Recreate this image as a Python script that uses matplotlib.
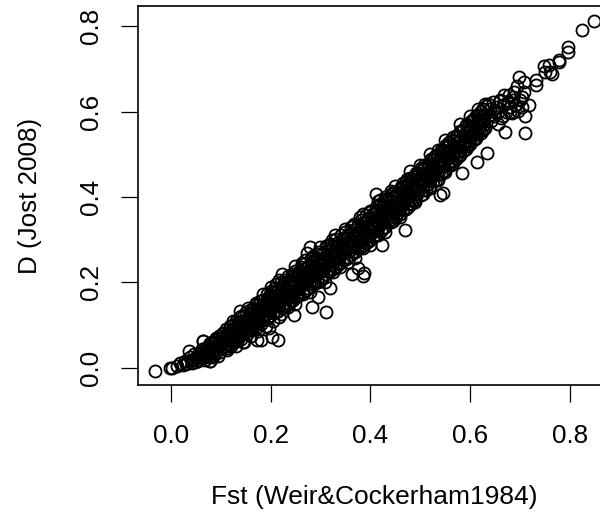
import matplotlib
matplotlib.use('Agg')
import matplotlib.pyplot as plt

plt.rcParams['font.family'] = ['Liberation Sans', 'DejaVu Sans']

# ---------------------------- values --------------------
# tail at the low end
fst_low = [-0.031, -0.001, 0.003, 0.012, 0.019, 0.024, 0.028, 0.033, 0.036, 0.04, 0.043, 0.047, 0.05, 0.054, 0.056,
           0.06, 0.062, 0.065, 0.068, 0.07, 0.072, 0.075, 0.079, 0.08, 0.083, 0.085, 0.088, 0.09, 0.092, 0.095, 0.097,
           0.03, 0.038, 0.044, 0.049, 0.052, 0.058, 0.063, 0.066, 0.071, 0.074, 0.077, 0.081, 0.084, 0.087, 0.089,
           0.091, 0.094, 0.096, 0.098, 0.078, 0.086, 0.093, 0.099]
d_low = [-0.008, 0.0, -0.001, 0.004, 0.01, 0.006, 0.016, 0.012, 0.04, 0.019, 0.012, 0.031, 0.024, 0.016, 0.034,
         0.027, 0.044, 0.063, 0.018, 0.04, 0.03, 0.052, 0.016, 0.036, 0.06, 0.03, 0.05, 0.069, 0.04, 0.059, 0.075,
         0.009, 0.024, 0.018, 0.014, 0.028, 0.022, 0.035, 0.026, 0.047, 0.024, 0.041, 0.046, 0.025, 0.057, 0.034,
         0.064, 0.028, 0.05, 0.037, 0.058, 0.042, 0.07, 0.066]

# band, upper edge
fst_a = [0.102, 0.111, 0.119, 0.131, 0.138, 0.151, 0.159, 0.171, 0.178, 0.192, 0.201, 0.208, 0.221, 0.229, 0.242,
         0.249, 0.261, 0.268, 0.282, 0.291, 0.298, 0.312, 0.319, 0.332, 0.341, 0.349, 0.362, 0.368, 0.381, 0.392,
         0.399, 0.412, 0.419, 0.431, 0.442, 0.448, 0.461, 0.472, 0.479, 0.491, 0.502, 0.508, 0.522, 0.529, 0.541,
         0.552, 0.558, 0.571, 0.579, 0.592, 0.601, 0.609, 0.622, 0.631]
d_a = [0.078, 0.09, 0.097, 0.109, 0.118, 0.13, 0.136, 0.149, 0.156, 0.172, 0.18, 0.186, 0.2, 0.205, 0.22,
       0.226, 0.236, 0.243, 0.256, 0.266, 0.27, 0.285, 0.29, 0.302, 0.31, 0.318, 0.33, 0.336, 0.347, 0.358,
       0.364, 0.376, 0.384, 0.395, 0.406, 0.412, 0.424, 0.436, 0.445, 0.456, 0.468, 0.474, 0.489, 0.496, 0.51,
       0.522, 0.53, 0.544, 0.554, 0.568, 0.578, 0.588, 0.602, 0.614]

# band, above the middle
fst_b = [0.105, 0.115, 0.124, 0.135, 0.145, 0.154, 0.165, 0.174, 0.186, 0.195, 0.204, 0.215, 0.226, 0.234, 0.246,
         0.255, 0.264, 0.276, 0.285, 0.294, 0.306, 0.315, 0.325, 0.336, 0.345, 0.355, 0.364, 0.376, 0.385, 0.396,
         0.405, 0.415, 0.424, 0.436, 0.445, 0.455, 0.466, 0.475, 0.484, 0.496, 0.505, 0.515, 0.526, 0.535, 0.546,
         0.555, 0.565, 0.574, 0.586, 0.595, 0.606, 0.615, 0.626, 0.636]
d_b = [0.072, 0.081, 0.088, 0.098, 0.11, 0.118, 0.129, 0.137, 0.152, 0.16, 0.169, 0.179, 0.19, 0.197, 0.209,
       0.217, 0.225, 0.237, 0.245, 0.253, 0.266, 0.274, 0.283, 0.293, 0.301, 0.31, 0.319, 0.331, 0.339, 0.35,
       0.36, 0.37, 0.379, 0.392, 0.401, 0.412, 0.424, 0.433, 0.443, 0.457, 0.466, 0.477, 0.489, 0.499, 0.511,
       0.522, 0.533, 0.544, 0.558, 0.569, 0.581, 0.592, 0.606, 0.618]

# band, middle
fst_c = [0.101, 0.112, 0.122, 0.129, 0.142, 0.148, 0.162, 0.169, 0.182, 0.189, 0.202, 0.212, 0.219, 0.232, 0.238,
         0.252, 0.259, 0.272, 0.279, 0.288, 0.302, 0.309, 0.322, 0.328, 0.342, 0.352, 0.359, 0.372, 0.378, 0.388,
         0.402, 0.409, 0.422, 0.428, 0.439, 0.452, 0.458, 0.469, 0.482, 0.488, 0.499, 0.512, 0.518, 0.532, 0.538,
         0.549, 0.562, 0.568, 0.582, 0.589, 0.598, 0.612, 0.618, 0.628]
d_c = [0.06, 0.07, 0.079, 0.085, 0.098, 0.104, 0.118, 0.124, 0.139, 0.144, 0.158, 0.166, 0.172, 0.184, 0.189,
       0.202, 0.208, 0.22, 0.226, 0.234, 0.247, 0.253, 0.265, 0.27, 0.283, 0.292, 0.298, 0.31, 0.316, 0.325,
       0.337, 0.344, 0.357, 0.363, 0.374, 0.387, 0.393, 0.405, 0.42, 0.426, 0.438, 0.453, 0.459, 0.475, 0.482,
       0.494, 0.51, 0.517, 0.533, 0.542, 0.552, 0.569, 0.577, 0.59]

# band, below the middle
fst_d = [0.108, 0.118, 0.126, 0.137, 0.146, 0.157, 0.166, 0.177, 0.185, 0.197, 0.206, 0.217, 0.225, 0.236, 0.245,
         0.257, 0.266, 0.275, 0.286, 0.296, 0.305, 0.317, 0.326, 0.335, 0.346, 0.357, 0.366, 0.375, 0.386, 0.397,
         0.406, 0.417, 0.426, 0.435, 0.446, 0.457, 0.465, 0.477, 0.486, 0.495, 0.506, 0.517, 0.525, 0.537, 0.545,
         0.557, 0.566, 0.576, 0.585, 0.597, 0.605, 0.617, 0.625, 0.638]
d_d = [0.052, 0.062, 0.069, 0.077, 0.086, 0.098, 0.106, 0.118, 0.124, 0.138, 0.146, 0.155, 0.162, 0.172, 0.18,
       0.191, 0.2, 0.207, 0.217, 0.227, 0.234, 0.246, 0.254, 0.262, 0.272, 0.282, 0.291, 0.298, 0.309, 0.32,
       0.328, 0.339, 0.349, 0.358, 0.369, 0.381, 0.389, 0.403, 0.413, 0.423, 0.435, 0.448, 0.457, 0.471, 0.48,
       0.494, 0.505, 0.517, 0.527, 0.542, 0.551, 0.566, 0.576, 0.592]

# band, lower edge
fst_e = [0.113, 0.121, 0.133, 0.141, 0.152, 0.163, 0.172, 0.181, 0.193, 0.199, 0.211, 0.222, 0.228, 0.241, 0.251,
         0.258, 0.271, 0.281, 0.289, 0.301, 0.311, 0.318, 0.331, 0.338, 0.351, 0.361, 0.369, 0.382, 0.391, 0.398,
         0.411, 0.421, 0.429, 0.441, 0.451, 0.459, 0.471, 0.481, 0.489, 0.501, 0.511, 0.519, 0.531, 0.542, 0.548,
         0.561, 0.572, 0.578, 0.591, 0.599, 0.611, 0.621, 0.629, 0.642]
d_e = [0.046, 0.052, 0.062, 0.068, 0.078, 0.088, 0.095, 0.102, 0.114, 0.12, 0.13, 0.14, 0.145, 0.156, 0.165,
       0.171, 0.183, 0.192, 0.199, 0.21, 0.219, 0.225, 0.237, 0.243, 0.255, 0.264, 0.271, 0.284, 0.292, 0.298,
       0.311, 0.321, 0.329, 0.341, 0.352, 0.36, 0.372, 0.384, 0.392, 0.405, 0.417, 0.426, 0.44, 0.453, 0.46,
       0.476, 0.49, 0.497, 0.513, 0.523, 0.538, 0.551, 0.561, 0.578]

# in-between tracks, they close the gaps so the band reads solid black
fst_f = [0.105, 0.116, 0.125, 0.134, 0.145, 0.156, 0.165, 0.174, 0.185, 0.196, 0.205, 0.214, 0.225, 0.236, 0.245,
         0.254, 0.265, 0.276, 0.285, 0.294, 0.305, 0.316, 0.325, 0.334, 0.345, 0.356, 0.365, 0.374, 0.385, 0.396,
         0.405, 0.414, 0.425, 0.436, 0.445, 0.454, 0.465, 0.476, 0.485, 0.494, 0.505, 0.516, 0.525, 0.534, 0.545,
         0.556, 0.565, 0.574, 0.585, 0.596, 0.605, 0.614, 0.625]
d_f = [0.082, 0.089, 0.1, 0.108, 0.119, 0.127, 0.139, 0.147, 0.159, 0.168, 0.178, 0.185, 0.196, 0.203, 0.214,
       0.221, 0.232, 0.239, 0.25, 0.257, 0.268, 0.275, 0.286, 0.293, 0.304, 0.311, 0.322, 0.329, 0.34, 0.347,
       0.359, 0.367, 0.379, 0.387, 0.399, 0.407, 0.42, 0.428, 0.442, 0.45, 0.464, 0.473, 0.486, 0.495, 0.508,
       0.518, 0.532, 0.542, 0.556, 0.566, 0.58, 0.591, 0.606]
d_h = [0.058, 0.067, 0.074, 0.086, 0.094, 0.105, 0.113, 0.125, 0.133, 0.145, 0.152, 0.163, 0.17, 0.181, 0.188,
       0.199, 0.206, 0.217, 0.224, 0.235, 0.242, 0.253, 0.26, 0.271, 0.278, 0.289, 0.296, 0.307, 0.314, 0.325,
       0.333, 0.345, 0.353, 0.365, 0.373, 0.385, 0.394, 0.407, 0.416, 0.429, 0.438, 0.451, 0.46, 0.473, 0.482,
       0.496, 0.506, 0.52, 0.53, 0.544, 0.554, 0.569, 0.58]
d_j = [0.048, 0.054, 0.061, 0.07, 0.078, 0.088, 0.096, 0.104, 0.112, 0.12, 0.128, 0.134, 0.143, 0.152, 0.158,
       0.168, 0.178, 0.187, 0.196, 0.206, 0.212, 0.226, 0.231, 0.245, 0.252, 0.26, 0.27, 0.28, 0.288, 0.299,
       0.306, 0.32, 0.328, 0.341, 0.348, 0.362, 0.37, 0.384, 0.393, 0.408, 0.416, 0.43, 0.438, 0.452, 0.46,
       0.475, 0.484, 0.499, 0.508, 0.524, 0.533, 0.548, 0.558]

fst_g = [0.108, 0.119, 0.128, 0.137, 0.148, 0.159, 0.168, 0.177, 0.188, 0.199, 0.208, 0.217, 0.228, 0.239, 0.248,
         0.257, 0.268, 0.279, 0.288, 0.297, 0.308, 0.319, 0.328, 0.337, 0.348, 0.359, 0.368, 0.377, 0.388, 0.399,
         0.408, 0.417, 0.428, 0.439, 0.448, 0.457, 0.468, 0.479, 0.488, 0.497, 0.508, 0.519, 0.528, 0.537, 0.548,
         0.559, 0.568, 0.577, 0.588, 0.599, 0.608, 0.617, 0.628]
d_g = [0.072, 0.08, 0.087, 0.099, 0.106, 0.118, 0.126, 0.138, 0.146, 0.158, 0.165, 0.176, 0.183, 0.195, 0.201,
       0.212, 0.219, 0.231, 0.237, 0.248, 0.255, 0.267, 0.273, 0.285, 0.291, 0.302, 0.309, 0.321, 0.327, 0.339,
       0.346, 0.359, 0.366, 0.379, 0.386, 0.399, 0.407, 0.42, 0.428, 0.443, 0.451, 0.465, 0.473, 0.487, 0.495,
       0.51, 0.519, 0.534, 0.543, 0.558, 0.567, 0.583, 0.593]
d_i = [0.05, 0.056, 0.065, 0.071, 0.084, 0.09, 0.104, 0.11, 0.124, 0.13, 0.144, 0.15, 0.163, 0.168, 0.18,
       0.186, 0.198, 0.204, 0.216, 0.222, 0.234, 0.24, 0.252, 0.258, 0.27, 0.276, 0.288, 0.294, 0.306, 0.312,
       0.325, 0.332, 0.345, 0.352, 0.365, 0.372, 0.386, 0.394, 0.408, 0.416, 0.43, 0.439, 0.452, 0.46, 0.474,
       0.484, 0.498, 0.507, 0.522, 0.532, 0.547, 0.556, 0.572]

# loose circles along the top and bottom of the band
fst_k = [0.125, 0.14, 0.155, 0.17, 0.185, 0.2, 0.21, 0.235, 0.25, 0.27, 0.285, 0.3, 0.315, 0.33, 0.35, 0.365,
         0.38, 0.4, 0.415, 0.43, 0.45, 0.465, 0.48, 0.5, 0.52, 0.535, 0.55, 0.565, 0.58, 0.6, 0.615]
d_k = [0.11, 0.122, 0.14, 0.152, 0.172, 0.19, 0.196, 0.215, 0.238, 0.252, 0.262, 0.282, 0.288, 0.31, 0.325, 0.332,
       0.354, 0.368, 0.39, 0.4, 0.425, 0.432, 0.46, 0.476, 0.5, 0.51, 0.534, 0.54, 0.57, 0.59, 0.605]
fst_l = [0.13, 0.145, 0.16, 0.175, 0.19, 0.205, 0.22, 0.235, 0.25, 0.265, 0.28, 0.295, 0.31, 0.325, 0.34, 0.355,
         0.37, 0.385, 0.4, 0.415, 0.43, 0.445, 0.46, 0.475, 0.49, 0.505, 0.52, 0.535, 0.55, 0.565, 0.58, 0.595,
         0.61, 0.625]
d_l = [0.052, 0.06, 0.074, 0.086, 0.098, 0.11, 0.125, 0.142, 0.15, 0.172, 0.178, 0.2, 0.202, 0.225, 0.236, 0.248,
       0.258, 0.28, 0.288, 0.31, 0.318, 0.344, 0.352, 0.376, 0.388, 0.408, 0.422, 0.44, 0.458, 0.48, 0.498, 0.52,
       0.535, 0.56]

# cluster just past the end of the band
fst_top = [0.64, 0.645, 0.648, 0.652, 0.656, 0.66, 0.662, 0.665, 0.668, 0.672, 0.675, 0.678, 0.68, 0.683, 0.686,
           0.688, 0.692, 0.695, 0.7, 0.703]
d_top = [0.605, 0.622, 0.59, 0.612, 0.6, 0.628, 0.585, 0.615, 0.638, 0.6, 0.625, 0.64, 0.61, 0.597, 0.628,
         0.645, 0.615, 0.602, 0.628, 0.61]

# stragglers either side of the band, and the sparse top end
fst_out = [0.065, 0.079, 0.113, 0.138, 0.146, 0.173, 0.18, 0.196, 0.203, 0.215, 0.216, 0.216, 0.223, 0.246, 0.263,
           0.273, 0.28, 0.283, 0.296, 0.311, 0.32, 0.323, 0.363, 0.376, 0.385, 0.386, 0.388, 0.411, 0.42, 0.423,
           0.441, 0.47, 0.473, 0.515, 0.54, 0.546, 0.548, 0.57, 0.583, 0.614, 0.63, 0.63, 0.634, 0.65, 0.655,
           0.66, 0.665, 0.67, 0.675, 0.68, 0.685, 0.69, 0.694, 0.698, 0.704, 0.707, 0.707, 0.71, 0.71, 0.717,
           0.732, 0.732, 0.747, 0.75, 0.757, 0.759, 0.764, 0.777, 0.778, 0.795, 0.796, 0.824, 0.847]
d_out = [0.063, 0.016, 0.041, 0.134, 0.061, 0.065, 0.065, 0.092, 0.073, 0.065, 0.118, 0.205, 0.22, 0.123, 0.245,
         0.268, 0.282, 0.143, 0.166, 0.13, 0.186, 0.299, 0.22, 0.233, 0.215, 0.36, 0.223, 0.406, 0.393, 0.288,
         0.414, 0.323, 0.443, 0.467, 0.405, 0.41, 0.508, 0.517, 0.456, 0.483, 0.617, 0.592, 0.502, 0.6, 0.57,
         0.625, 0.59, 0.553, 0.62, 0.6, 0.635, 0.615, 0.66, 0.68, 0.635, 0.67, 0.647, 0.59, 0.551, 0.615,
         0.674, 0.662, 0.708, 0.694, 0.709, 0.693, 0.688, 0.717, 0.721, 0.752, 0.74, 0.791, 0.813]

x_ticks = [0.0, 0.2, 0.4, 0.6, 0.8]
y_ticks = [0.0, 0.2, 0.4, 0.6, 0.8]

# ---------------------------- plotting ----------------------------------------
fig = plt.figure(figsize=(6.0, 5.14), dpi=100)
# the right edge of the box falls outside the picture, like in the original
ax = fig.add_axes([137.5 / 600, (514 - 385) / 514, (610 - 137.5) / 600, (385 - 6) / 514])

groups = [(fst_low, d_low), (fst_a, d_a), (fst_b, d_b), (fst_c, d_c), (fst_d, d_d), (fst_e, d_e),
          (fst_f, d_f), (fst_f, d_h), (fst_f, d_j), (fst_g, d_g), (fst_g, d_i), (fst_k, d_k), (fst_l, d_l),
          (fst_top, d_top), (fst_out, d_out)]
for xs, ys in groups:
    ax.plot(xs, ys, 'o', mfc='none', mec='black', ms=8.7, mew=1.3)

ax.set_xlim(-0.0665, 0.88)
ax.set_ylim(-0.0405, 0.8475)
ax.set_xticks(x_ticks)
ax.set_xticklabels(['%.1f' % t for t in x_ticks])
ax.set_yticks(y_ticks)
ax.set_yticklabels(['%.1f' % t for t in y_ticks], rotation=90, va='center')
ax.tick_params(length=12, width=0.9, labelsize=18.7)
ax.tick_params(axis='x', pad=16)
ax.tick_params(axis='y', pad=13)
for s in ax.spines.values():
    s.set_linewidth(1.2)

fig.text(374 / 600, 1 - 497 / 514, 'Fst (Weir&Cockerham1984)', ha='center', va='center', fontsize=19)
fig.text(30 / 600, 1 - 195.5 / 514, 'D (Jost 2008)', ha='center', va='center', rotation=90, fontsize=18.7)

plt.savefig('out.png', dpi=100)
